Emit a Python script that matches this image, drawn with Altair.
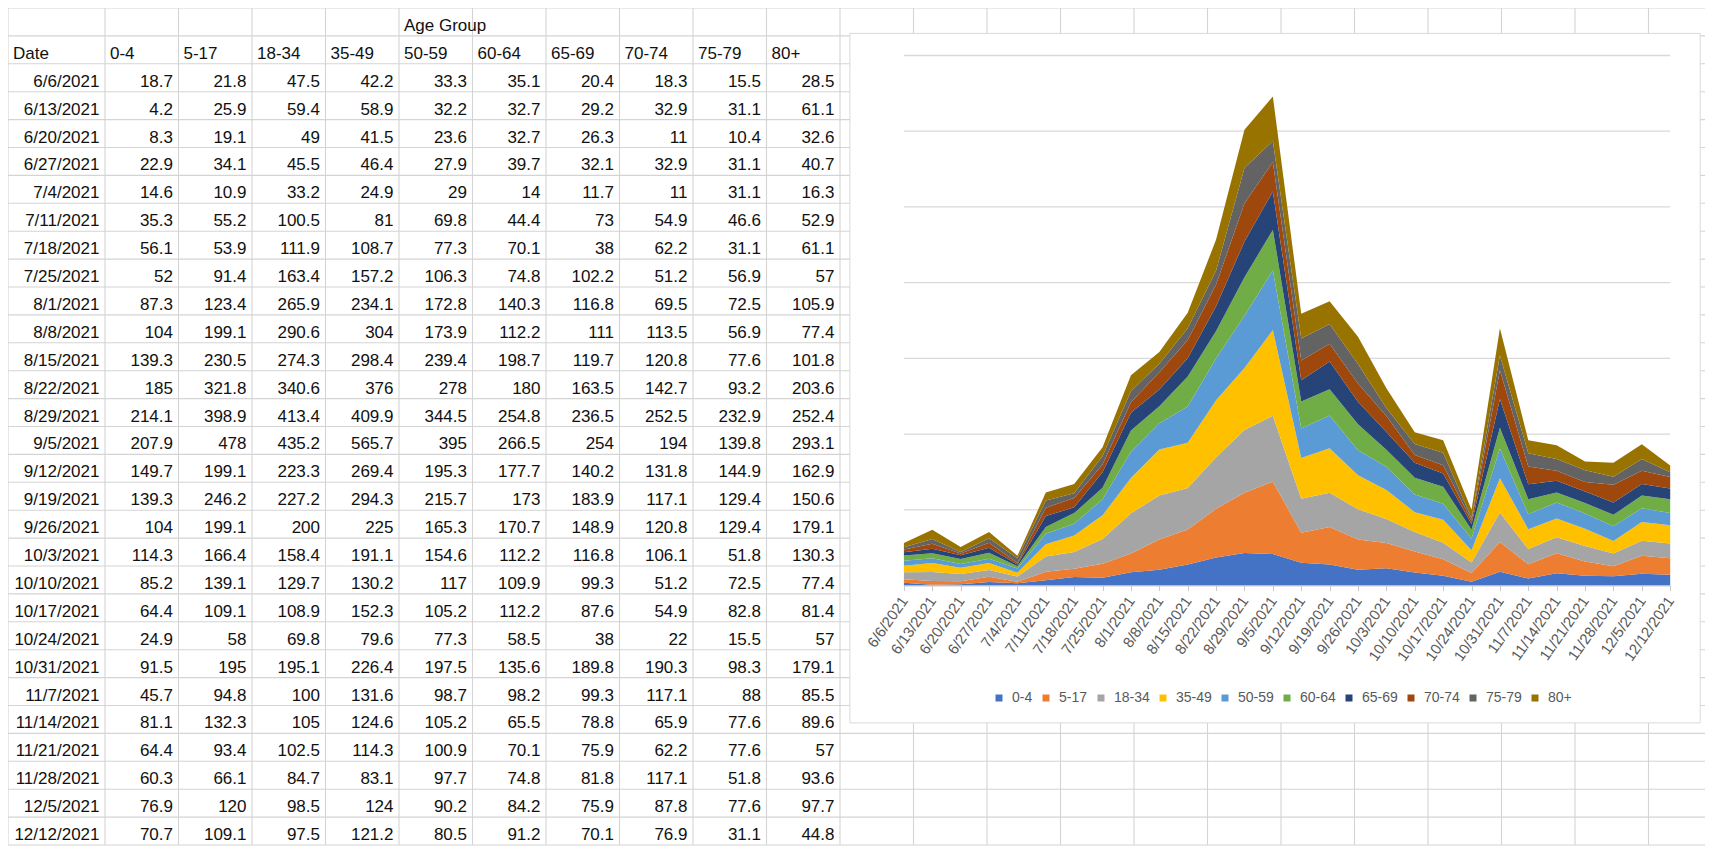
import altair as alt
import pandas as pd

dates = ["6/6/2021", "6/13/2021", "6/20/2021", "6/27/2021", "7/4/2021", "7/11/2021",
         "7/18/2021", "7/25/2021", "8/1/2021", "8/8/2021", "8/15/2021", "8/22/2021",
         "8/29/2021", "9/5/2021", "9/12/2021", "9/19/2021", "9/26/2021", "10/3/2021",
         "10/10/2021", "10/17/2021", "10/24/2021", "10/31/2021", "11/7/2021", "11/14/2021",
         "11/21/2021", "11/28/2021", "12/5/2021", "12/12/2021"]
groups = ["0-4", "5-17", "18-34", "35-49", "50-59", "60-64", "65-69", "70-74", "75-79", "80+"]

age_0_4 = [18.7, 4.2, 8.3, 22.9, 14.6, 35.3, 56.1, 52, 87.3, 104, 139.3, 185, 214.1, 207.9,
           149.7, 139.3, 104, 114.3, 85.2, 64.4, 24.9, 91.5, 45.7, 81.1, 64.4, 60.3, 76.9, 70.7]
age_5_17 = [21.8, 25.9, 19.1, 34.1, 10.9, 55.2, 53.9, 91.4, 123.4, 199.1, 230.5, 321.8, 398.9, 478,
            199.1, 246.2, 199.1, 166.4, 139.1, 109.1, 58, 195, 94.8, 132.3, 93.4, 66.1, 120, 109.1]
age_18_34 = [47.5, 59.4, 49, 45.5, 33.2, 100.5, 111.9, 163.4, 265.9, 290.6, 274.3, 340.6, 413.4, 435.2,
             223.3, 227.2, 200, 158.4, 129.7, 108.9, 69.8, 195.1, 100, 105, 102.5, 84.7, 98.5, 97.5]
age_35_49 = [42.2, 58.9, 41.5, 46.4, 24.9, 81, 108.7, 157.2, 234.1, 304, 298.4, 376, 409.9, 565.7,
             269.4, 294.3, 225, 191.1, 130.2, 152.3, 79.6, 226.4, 131.6, 124.6, 114.3, 83.1, 124, 121.2]
age_50_59 = [33.3, 32.2, 23.6, 27.9, 29, 69.8, 77.3, 106.3, 172.8, 173.9, 239.4, 278, 344.5, 395,
             195.3, 215.7, 165.3, 154.6, 117, 105.2, 77.3, 197.5, 98.7, 105.2, 100.9, 97.7, 90.2, 80.5]
age_60_64 = [35.1, 32.7, 32.7, 39.7, 14, 44.4, 70.1, 74.8, 140.3, 112.2, 198.7, 180, 254.8, 266.5,
             177.7, 173, 170.7, 112.2, 109.9, 112.2, 58.5, 135.6, 98.2, 65.5, 70.1, 74.8, 84.2, 91.2]
age_65_69 = [20.4, 29.2, 26.3, 32.1, 11.7, 73, 38, 102.2, 116.8, 111, 119.7, 163.5, 236.5, 254,
             140.2, 183.9, 148.9, 116.8, 99.3, 87.6, 38, 189.8, 99.3, 78.8, 75.9, 81.8, 75.9, 70.1]
age_70_74 = [18.3, 32.9, 11, 32.9, 11, 54.9, 62.2, 51.2, 69.5, 113.5, 120.8, 142.7, 252.5, 194,
             131.8, 117.1, 120.8, 106.1, 51.2, 54.9, 22, 190.3, 117.1, 65.9, 62.2, 117.1, 87.8, 76.9]
age_75_79 = [15.5, 31.1, 10.4, 31.1, 31.1, 46.6, 31.1, 56.9, 72.5, 56.9, 77.6, 93.2, 232.9, 139.8,
             144.9, 129.4, 129.4, 51.8, 72.5, 82.8, 15.5, 98.3, 88, 77.6, 77.6, 51.8, 77.6, 31.1]
age_80_plus = [28.5, 61.1, 32.6, 40.7, 16.3, 52.9, 61.1, 57, 105.9, 77.4, 101.8, 203.6, 252.4, 293.1,
               162.9, 150.6, 179.1, 130.3, 77.4, 81.4, 57, 179.1, 85.5, 89.6, 57, 93.6, 97.7, 44.8]

series = [age_0_4, age_5_17, age_18_34, age_35_49, age_50_59,
          age_60_64, age_65_69, age_70_74, age_75_79, age_80_plus]
colors = ["#4472C4", "#ED7D31", "#A5A5A5", "#FFC000", "#5B9BD5",
          "#70AD47", "#264478", "#9E480E", "#636363", "#997300"]
y_ticks = [500, 1000, 1500, 2000, 2500, 3000, 3500]
y_max = 3500

# ---------------- layout ----------------
FONT = "Liberation Sans, Arial, sans-serif"
W, H = 1697, 838
COL_W, DATE_W, ROW_H = 73.5, 97.0, 27.9
N_ROWS = 2 + len(dates)
XU = W / COL_W          # sheet width in column units
YU = H / ROW_H          # sheet height in row units
date_u = DATE_W / COL_W
edges = [0.0, date_u]
while edges[-1] + 1 <= XU:
    edges.append(edges[-1] + 1)

PX0, PX1 = 895.9, 1662.2     # plot area (pixels of the canvas)
PY0, PY1 = 47.5, 577.5
BOX = (841.9, 1692.2, 25.4, 714.9)

sx = alt.Scale(domain=[0, XU], range=[0, W], nice=False, zero=False)
sy = alt.Scale(domain=[0, YU], range=[0, H], nice=False, zero=False)

# ---------------- spreadsheet ----------------
vlines = pd.DataFrame({"x": edges, "y0": 0, "y1": N_ROWS})
hlines = pd.DataFrame({"y": list(range(N_ROWS + 1)), "x0": 0.0, "x1": XU})

left_cells = [{"x": edges[1 + groups.index("50-59")], "row": 1, "t": "Age Group"},
              {"x": 0.0, "row": 2, "t": "Date"}]
left_cells += [{"x": edges[1 + i], "row": 2, "t": g} for i, g in enumerate(groups)]

right_cells = []
for r, d in enumerate(dates):
    right_cells.append({"x": edges[1], "row": r + 3, "t": d})
    for i, s in enumerate(series):
        right_cells.append({"x": edges[2 + i], "row": r + 3, "t": f"{s[r]:g}"})

GRID_C = "#d4d4d4"
vr = alt.Chart(vlines).mark_rule(color=GRID_C, strokeWidth=1.1).encode(
    x=alt.X("x:Q", scale=sx, axis=None),
    y=alt.Y("y0:Q", scale=sy, axis=None), y2="y1:Q")
hr = alt.Chart(hlines).mark_rule(color=GRID_C, strokeWidth=1.1).encode(
    y=alt.Y("y:Q", scale=sy, axis=None),
    x=alt.X("x0:Q", scale=sx, axis=None), x2="x1:Q")

txt_style = dict(baseline="alphabetic", dy=-5, font=FONT, fontSize=17, color="#111111")
tl = alt.Chart(pd.DataFrame(left_cells)).mark_text(align="left", dx=5, **txt_style).encode(
    x=alt.X("x:Q", scale=sx, axis=None), y=alt.Y("row:Q", scale=sy, axis=None), text="t:N")
tr = alt.Chart(pd.DataFrame(right_cells)).mark_text(align="right", dx=-5.5, **txt_style).encode(
    x=alt.X("x:Q", scale=sx, axis=None), y=alt.Y("row:Q", scale=sy, axis=None), text="t:N")

box = alt.Chart(pd.DataFrame({"a": [0]})).mark_rect(
    fill="white", stroke="#d9d9d9", strokeWidth=1).encode(
    x=alt.value(BOX[0]), x2=alt.value(BOX[1]), y=alt.value(BOX[2]), y2=alt.value(BOX[3]))

sheet = alt.layer(vr, hr, tl, tr, box)

# ---------------- stacked area chart ----------------
n = len(dates)
long = pd.DataFrame([{"idx": j, "group": g, "gi": i, "value": s[j]}
                     for i, (g, s) in enumerate(zip(groups, series)) for j in range(n)])
grid_df = pd.DataFrame({"v": y_ticks, "x0": 0, "x1": n - 1})

cx = alt.Scale(domain=[0, n - 1], range=[PX0, PX1], nice=False, zero=False)
cy = alt.Scale(domain=[0, y_max], range=[PY1, PY0], nice=False)

label_expr = "[" + ",".join(f"'{d}'" for d in dates) + "][datum.value]"
AXIS = alt.Axis(values=list(range(n)), labelExpr=label_expr, labelAngle=-55,
                labelAlign="right", labelBaseline="middle",
                labelFontSize=15, labelColor="#595959", labelFont=FONT,
                domainColor="#c8c8c8", domainWidth=1, tickColor="#c8c8c8", tickSize=5,
                labelPadding=7, offset=PY1 - H, grid=False, title=None, zindex=2,
                labelOverlap=False, labelBound=False, labelFlush=False)

grid_rules = alt.Chart(grid_df).mark_rule(color="#d9d9d9", strokeWidth=1.3).encode(
    x=alt.X("x0:Q", scale=cx, axis=AXIS), x2="x1:Q",
    y=alt.Y("v:Q", scale=cy, axis=None))

area = alt.Chart(long).mark_area(interpolate="linear").encode(
    x=alt.X("idx:Q", scale=cx, axis=AXIS),
    y=alt.Y("value:Q", stack="zero", scale=cy, axis=None),
    color=alt.Color("group:N", scale=alt.Scale(domain=groups, range=colors),
                    legend=alt.Legend(orient="none", legendX=984, legendY=683,
                                      direction="horizontal", title=None,
                                      symbolType="square", symbolSize=49,
                                      symbolStrokeWidth=0, zindex=2,
                                      labelFontSize=14, labelColor="#595959", labelFont=FONT,
                                      columnPadding=6, labelOffset=6, padding=0)),
    order=alt.Order("gi:Q", sort="ascending"))

plot = alt.layer(grid_rules, area)

chart = alt.layer(sheet, plot).resolve_scale(
    x="independent", y="independent"
).properties(
    width=W, height=H, padding=0, background="white",
    autosize=alt.AutoSizeParams(type="none")
).configure_view(stroke=None)

chart.save("out.html", embed_options={"renderer": "svg", "actions": False})
